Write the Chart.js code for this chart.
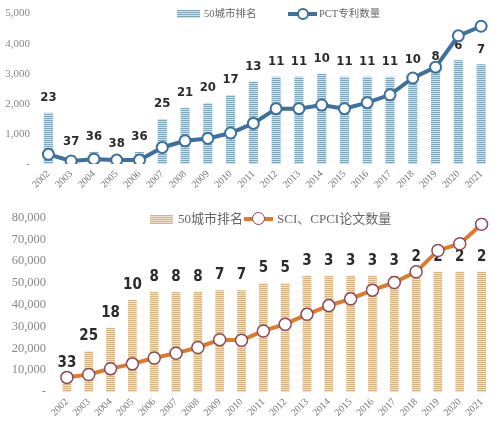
<!DOCTYPE html>
<html><head><meta charset="utf-8">
<script src="https://cdn.jsdelivr.net/npm/chart.js@4.4.0/dist/chart.umd.min.js"></script>
<style>
html,body{margin:0;padding:0;background:#fff;width:500px;height:428px;overflow:hidden;}
#wrap{position:relative;width:500px;height:428px;}
.box{position:absolute;left:0;width:500px;}
.lg{position:absolute;font-family:'Liberation Serif','Noto Sans CJK SC',serif;color:#666;white-space:nowrap;line-height:1;}
.sw{position:absolute;}
.ln{position:absolute;}
.dot{position:absolute;border-radius:50%;background:#fff;box-sizing:border-box;}
</style>
</head><body>
<div id="wrap">
  <div class="box" style="top:0;height:200px;"><canvas id="c1"></canvas></div>
  <div class="box" style="top:200px;height:228px;"><canvas id="c2"></canvas></div>

  <div class="sw" style="left:177px;top:10px;width:23px;height:8px;background:repeating-linear-gradient(180deg,#7fa6b8 0 1px,#d3e1e8 1px 2px);"></div>
  <div class="lg" style="left:204px;top:9px;font-size:10.5px;">50城市排名</div>
  <div class="ln" style="left:288px;top:12px;width:29px;height:4px;background:#3d6f9f;"></div>
  <div class="dot" style="left:297px;top:8px;width:12px;height:12px;border:2px solid #3d6f9f;"></div>
  <div class="lg" style="left:319px;top:9px;font-size:10.5px;">PCT专利数量</div>

  <div class="sw" style="left:150px;top:215px;width:23px;height:9px;background:repeating-linear-gradient(180deg,#d4b282 0 1px,#f0e2cc 1px 2px);"></div>
  <div class="lg" style="left:178px;top:212px;font-size:13px;">50城市排名</div>
  <div class="ln" style="left:244px;top:217px;width:29px;height:4px;background:#e07a2a;"></div>
  <div class="dot" style="left:252px;top:212px;width:13px;height:13px;border:1.5px solid #8b4a58;"></div>
  <div class="lg" style="left:277px;top:212px;font-size:13px;">SCI、CPCI论文数量</div>
</div>
<script>
const years = ['2002','2003','2004','2005','2006','2007','2008','2009','2010','2011','2012','2013','2014','2015','2016','2017','2018','2019','2020','2021'];

// top chart
const pctRank  = [23,37,36,38,36,25,21,20,17,13,11,11,10,11,11,11,10,8,6,7];
const pctBar   = [1700,260,400,190,400,1500,1870,2030,2290,2740,2900,2900,3000,2900,2900,2900,2970,3080,3450,3320];
const pctCount = [320,100,160,130,130,550,770,850,1030,1350,1840,1840,1960,1840,2040,2300,2860,3220,4260,4580];
const pctTicks = [0,1000,2000,3000,4000,5000];

// bottom chart
const sciRank  = [33,25,18,10,8,8,8,7,7,5,5,3,3,3,3,3,2,2,2,2];
const sciBar   = [6500,18700,29300,42200,45800,45800,45800,46700,46700,49800,49800,53300,53300,53300,53300,53300,55100,55100,55100,55100];
const sciCount = [6700,8000,10700,12900,15600,17800,20400,24000,23700,28000,31100,35600,39600,42700,46700,50200,55100,64900,68000,76900];
const sciTicks = [0,10000,20000,30000,40000,50000,60000,70000,80000];

function stripe(c1, c2){
  const cv = document.createElement('canvas');
  cv.width = 4; cv.height = 2;
  const g = cv.getContext('2d');
  g.fillStyle = c2; g.fillRect(0,0,4,2);
  g.fillStyle = c1; g.fillRect(0,0,4,1);
  return g.createPattern(cv,'repeat');
}

const rankLabels = {
  id:'rankLabels',
  afterDatasetDraw(chart, args, opts){
    if (args.meta.type !== 'bar') return;
    const ctx = chart.ctx;
    const ranks = opts.ranks;
    ctx.save();
    ctx.font = 'bold ' + opts.size + 'px "Liberation Sans Narrow","DejaVu Sans Condensed",sans-serif';
    ctx.fillStyle = '#2b2b2b';
    ctx.textAlign = 'center';
    ctx.textBaseline = 'middle';
    args.meta.data.forEach((el,i)=>{
      ctx.fillText(String(ranks[i]), el.x, el.y - opts.offset);
    });
    ctx.restore();
  }
};

const fmt = v => v === 0 ? '-' : v.toLocaleString('en-US');

function makeChart(id, bars, line, ranks, ticks, o){
  return new Chart(document.getElementById(id), {
    data: {
      labels: years,
      datasets: [
        { type:'line', label:o.lineLabel, data:line, order:0,
          borderColor:o.lineColor, borderWidth:o.lineWidth, backgroundColor:'#fff',
          pointBackgroundColor:'#fff', pointBorderColor:o.ptBorder, pointBorderWidth:o.ptBW,
          pointRadius:o.ptR, tension:0 },
        { type:'bar', label:'50城市排名', data:bars, order:1,
          backgroundColor:o.pattern, barPercentage:0.4, categoryPercentage:1.0 }
      ]
    },
    options: {
      responsive:true, maintainAspectRatio:false, animation:false,
      layout:{ padding:{ top:o.padTop, right:o.padRight, left:0, bottom:0 } },
      plugins:{ legend:{display:false}, tooltip:{enabled:false},
        rankLabels:{ ranks:ranks, size:o.lblSize, offset:o.lblOff } },
      scales:{
        x:{ grid:{display:false, drawTicks:false}, border:{display:false},
            ticks:{ autoSkip:false, maxRotation:45, minRotation:45, padding:4, color:'#777',
                    font:{family:'"Liberation Serif",serif', size:o.xFont} },
            afterFit:s=>{ s.height = 36; } },
        y:{ min:0, max:ticks[ticks.length-1], grid:{display:false, drawTicks:false}, border:{display:false},
            afterBuildTicks:s=>{ s.ticks = ticks.map(v=>({value:v})); },
            ticks:{ callback:fmt, padding:o.yPad, color:'#888',
                    font:{family:'"Liberation Serif",serif', size:o.yFont} },
            afterFit:s=>{ s.width = o.yW; } }
      }
    },
    plugins:[rankLabels]
  });
}

makeChart('c1', pctBar, pctCount, pctRank, pctTicks, {
  lineLabel:'PCT专利数量', lineColor:'#3d6f9f', lineWidth:4, ptBorder:'#3d6f9f', ptBW:2, ptR:5.5,
  pattern:stripe('#7fa6b8','#d3e1e8'), padTop:9, padRight:1, lblSize:13, lblOff:15,
  xFont:10, yFont:11, yPad:7, yW:37
});
makeChart('c2', sciBar, sciCount, sciRank, sciTicks, {
  lineLabel:'SCI、CPCI论文数量', lineColor:'#e07a2a', lineWidth:4, ptBorder:'#8b4a58', ptBW:1.5, ptR:6,
  pattern:stripe('#d4b282','#f0e2cc'), padTop:12, padRight:0, lblSize:15, lblOff:15,
  xFont:10, yFont:12.5, yPad:10, yW:56
});
</script>
</body></html>
